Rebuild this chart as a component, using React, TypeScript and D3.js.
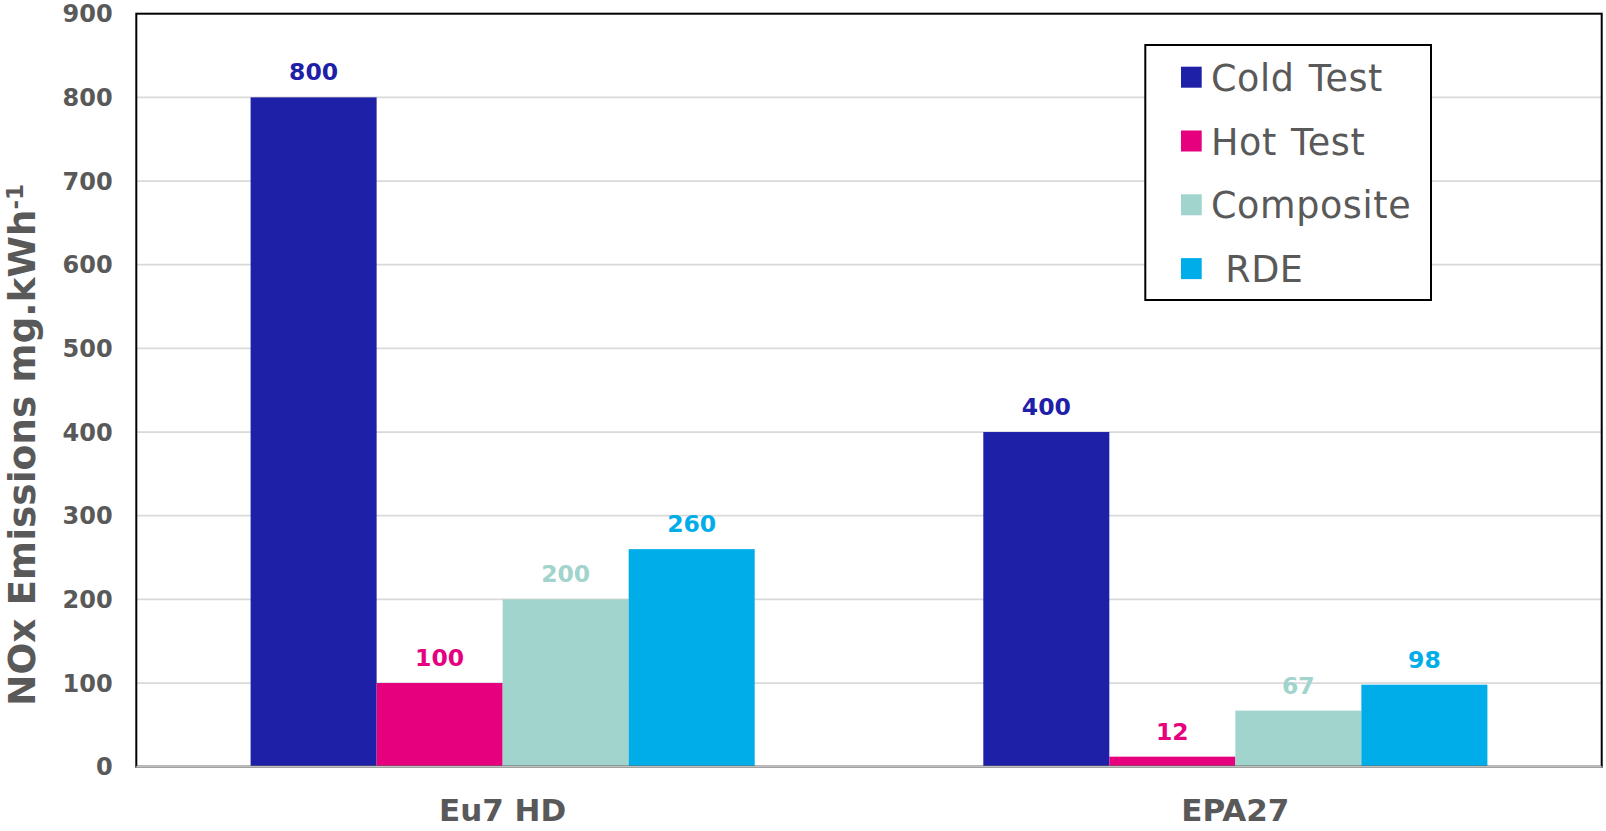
import React from "react";
import * as d3 from "d3";

// Test cycles grouped on the x axis
const categories = ["Eu7 HD", "EPA27"];
// One series per test type
const seriesNames = ["Cold Test", "Hot Test", "Composite", "RDE"];
const legendLabels = ["Cold Test", "Hot Test", "Composite", " RDE"];
const seriesColors = ["#1F20A8", "#E6007E", "#A0D4CC", "#00ADE9"];
// NOx emissions in mg/kWh, per series, ordered as the categories
const coldTest = [800, 400];
const hotTest = [100, 12];
const composite = [200, 67];
const rde = [260, 98];
const yTicks = [0, 100, 200, 300, 400, 500, 600, 700, 800, 900];

const seriesValues = [coldTest, hotTest, composite, rde];

const W = 1606;
const H = 831;
const plot = { left: 136.3, right: 1601.7, top: 13.7, bottom: 766.7 };
const FONT = "'DejaVu Sans', Verdana, sans-serif";
const GREY = "#595959";

export default function App() {
  const y = d3.scaleLinear().domain([0, 900]).range([plot.bottom, plot.top]);
  const x0 = d3
    .scaleBand<string>()
    .domain(categories)
    .range([plot.left, plot.right])
    .paddingInner(0.312)
    .paddingOuter(0.156);
  const x1 = d3
    .scaleBand<string>()
    .domain(seriesNames)
    .range([0, x0.bandwidth()])
    .padding(0);

  const legend = { x: 1145.3, y: 45, w: 285.7, h: 255, firstRow: 77.2, rowStep: 63.8 };

  return (
    <svg
      width={W}
      height={H}
      style={{ position: "absolute", left: 0, top: 0, background: "#fff" }}
      fontFamily={FONT}
    >
      {/* horizontal gridlines */}
      {yTicks
        .filter((t) => t > 0 && t < 900)
        .map((t) => (
          <line
            key={"g" + t}
            x1={plot.left}
            x2={plot.right}
            y1={y(t)}
            y2={y(t)}
            stroke="#d9d9d9"
            strokeWidth={1.7}
          />
        ))}

      {/* bars */}
      {categories.map((cat, ci) =>
        seriesNames.map((s, si) => {
          const v = seriesValues[si][ci];
          const bx = (x0(cat) ?? 0) + (x1(s) ?? 0);
          return (
            <rect
              key={cat + s}
              x={bx}
              y={y(v)}
              width={x1.bandwidth()}
              height={y(0) - y(v)}
              fill={seriesColors[si]}
            />
          );
        })
      )}

      {/* value labels */}
      {categories.map((cat, ci) =>
        seriesNames.map((s, si) => {
          const v = seriesValues[si][ci];
          const cx = (x0(cat) ?? 0) + (x1(s) ?? 0) + x1.bandwidth() / 2;
          return (
            <text
              key={"l" + cat + s}
              x={cx}
              y={y(v) - 17}
              textAnchor="middle"
              fontSize={23.5}
              fontWeight="bold"
              fill={seriesColors[si]}
            >
              {v}
            </text>
          );
        })
      )}

      {/* plot frame */}
      <rect
        x={plot.left}
        y={plot.top}
        width={plot.right - plot.left}
        height={plot.bottom - plot.top}
        fill="none"
        stroke="#000"
        strokeWidth={2}
      />
      {/* category axis line */}
      <line
        x1={plot.left}
        x2={plot.right}
        y1={plot.bottom}
        y2={plot.bottom}
        stroke="#bfbfbf"
        strokeWidth={2}
      />

      {/* y tick labels */}
      {yTicks.map((t) => (
        <text
          key={"t" + t}
          x={112.7}
          y={y(t)}
          dy="0.36em"
          textAnchor="end"
          fontSize={24}
          fontWeight="bold"
          fill={GREY}
        >
          {t}
        </text>
      ))}

      {/* category labels */}
      {categories.map((cat) => (
        <text
          key={"c" + cat}
          x={(x0(cat) ?? 0) + x0.bandwidth() / 2}
          y={821}
          textAnchor="middle"
          fontSize={31}
          fontWeight="bold"
          fill={GREY}
        >
          {cat}
        </text>
      ))}

      {/* y axis title */}
      <text
        transform="translate(35,706) rotate(-90)"
        fontSize={37.5}
        fontWeight="bold"
        fill={GREY}
      >
        NOx Emissions mg.kWh
        <tspan fontSize={23} dy={-12}>
          -1
        </tspan>
      </text>

      {/* legend */}
      <rect
        x={legend.x}
        y={legend.y}
        width={legend.w}
        height={legend.h}
        fill="#fff"
        stroke="#000"
        strokeWidth={2}
      />
      {legendLabels.map((label, i) => {
        const cy = legend.firstRow + i * legend.rowStep;
        return (
          <g key={"lg" + i}>
            <rect x={1181} y={cy - 10.5} width={20.7} height={21} fill={seriesColors[i]} />
            <text
              x={1211}
              y={cy + 13.5}
              fontSize={36.5}
              fill={GREY}
              letterSpacing={0.6}
              wordSpacing={2}
              style={{ whiteSpace: "pre" }}
            >
              {label}
            </text>
          </g>
        );
      })}
    </svg>
  );
}
